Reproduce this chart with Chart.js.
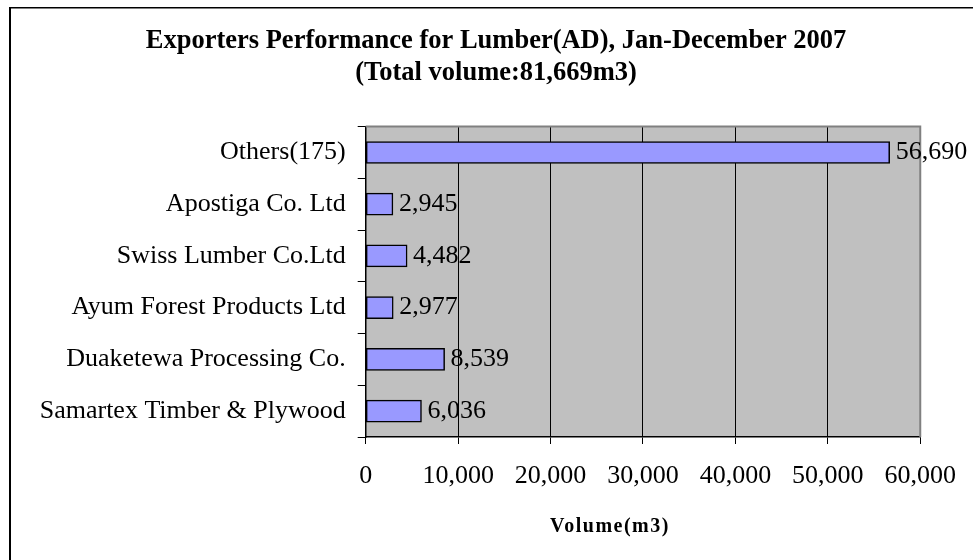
<!DOCTYPE html>
<html>
<head>
<meta charset="utf-8">
<script src="https://cdn.jsdelivr.net/npm/chart.js@4"></script>
<style>
  html, body { margin: 0; padding: 0; background: #fff; }
  #wrap { position: relative; width: 973px; height: 560px; }
</style>
</head>
<body>
<div id="wrap"><canvas id="c" width="973" height="560"></canvas></div>
<script>
const categories = [
  'Others(175)',
  'Apostiga Co. Ltd',
  'Swiss Lumber Co.Ltd',
  'Ayum Forest Products Ltd',
  'Duaketewa Processing Co.',
  'Samartex Timber & Plywood'
];
const volumes = [56690, 2945, 4482, 2977, 8539, 6036];
const titleLines = ['Exporters Performance for Lumber(AD), Jan-December 2007', '(Total volume:81,669m3)'];
const axisTitle = 'Volume(m3)';
const xMin = 0, xMax = 60000, xStep = 10000;

const SERIF = "'Liberation Serif', 'Times New Roman', serif";
const fmt = v => Number(v).toLocaleString('en-US');

const framePlugin = {
  id: 'frame',
  beforeDraw(chart) {
    const { ctx, chartArea: a } = chart;
    ctx.save();
    ctx.fillStyle = '#000';
    ctx.fillRect(9, 7, 2, chart.height);
    ctx.fillRect(9, 7, chart.width, 1.5);
    ctx.fillStyle = '#C0C0C0';
    ctx.fillRect(a.left, a.top, a.right - a.left, a.bottom - a.top);
    ctx.restore();
  },
  beforeDatasetsDraw(chart) {
    const { ctx, chartArea: a } = chart;
    ctx.save();
    ctx.strokeStyle = '#808080';
    ctx.lineWidth = 2;
    ctx.beginPath();
    ctx.moveTo(a.left, a.top);
    ctx.lineTo(a.right, a.top);
    ctx.lineTo(a.right, a.bottom);
    ctx.stroke();
    ctx.restore();
  },
  afterDatasetsDraw(chart) {
    const { ctx } = chart;
    const meta = chart.getDatasetMeta(0);
    ctx.save();
    ctx.fillStyle = '#000';
    ctx.font = '26px ' + SERIF;
    ctx.textAlign = 'left';
    ctx.textBaseline = 'middle';
    meta.data.forEach((bar, i) => {
      ctx.fillText(fmt(chart.data.datasets[0].data[i]), bar.x + 6, bar.y);
    });
    ctx.font = 'bold 20px ' + SERIF;
    try { ctx.letterSpacing = '1.5px'; } catch (e) {}
    ctx.textAlign = 'center';
    ctx.fillText(axisTitle, 610, 527);
    ctx.restore();
  }
};

new Chart(document.getElementById('c'), {
  type: 'bar',
  data: {
    labels: categories,
    datasets: [{
      data: volumes,
      yAxisID: 'y',
      backgroundColor: '#9999FF',
      borderColor: '#000',
      borderWidth: 1.5,
      borderSkipped: false,
      barThickness: 22
    }]
  },
  options: {
    indexAxis: 'y',
    responsive: false,
    animation: false,
    devicePixelRatio: 1,
    layout: { padding: { left: 19, right: 0, top: 0, bottom: 0 } },
    plugins: {
      legend: { display: false },
      tooltip: { enabled: false },
      title: {
        display: true,
        text: titleLines,
        color: '#000',
        font: { family: SERIF, size: 26.5, weight: 'bold', lineHeight: 1.2 },
        padding: { top: 25, bottom: 38 }
      }
    },
    scales: {
      x: {
        type: 'linear',
        min: xMin,
        max: xMax,
        afterFit: s => { s.height = 123; },
        ticks: {
          stepSize: xStep,
          color: '#000',
          padding: 17,
          maxRotation: 0,
          font: { family: SERIF, size: 26 },
          callback: v => fmt(v)
        },
        grid: {
          color: c => (c.index === 6 ? '#808080' : '#000'),
          lineWidth: 1,
          tickColor: '#000',
          tickLength: 7,
          drawTicks: true
        },
        border: { display: true, color: '#000', width: 1.5 }
      },
      y: {
        type: 'category',
        afterFit: s => { s.width = 346.7; },
        ticks: {
          color: '#000',
          padding: 12,
          font: { family: SERIF, size: 26 }
        },
        grid: {
          drawOnChartArea: false,
          drawTicks: true,
          tickLength: 8,
          tickColor: '#000',
          offset: true
        },
        border: { display: true, color: '#000', width: 1.5 }
      },
      y2: {
        type: 'category',
        position: 'right',
        display: true,
        afterFit: s => { s.width = 48; },
        ticks: { display: false },
        grid: { display: false, drawTicks: false },
        border: { display: false }
      }
    }
  },
  plugins: [framePlugin]
});
</script>
</body>
</html>
